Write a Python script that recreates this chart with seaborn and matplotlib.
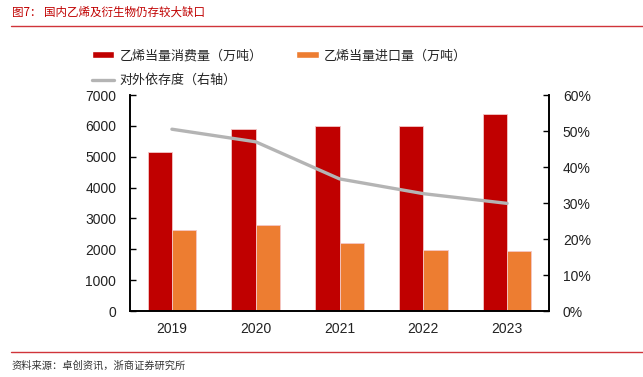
import numpy as np
import pandas as pd
import matplotlib
matplotlib.use('Agg')
import matplotlib.pyplot as plt
import seaborn as sns
from matplotlib.patches import Patch
from matplotlib.lines import Line2D

# 数据
years = ['2019', '2020', '2021', '2022', '2023']
consume = [5150, 5890, 5980, 6010, 6380]      # 乙烯当量消费量（万吨）
imports = [2610, 2780, 2200, 1965, 1930]      # 乙烯当量进口量（万吨）
depend = [0.505, 0.470, 0.367, 0.326, 0.299]  # 对外依存度（右轴）

name_c = '乙烯当量消费量（万吨）'
name_i = '乙烯当量进口量（万吨）'
name_d = '对外依存度（右轴）'

sns.set_style('white')
plt.rcParams['font.family'] = ['Noto Sans CJK SC', 'DejaVu Sans']

df = pd.DataFrame({
    'year': years * 2,
    'value': consume + imports,
    'kind': [name_c] * len(years) + [name_i] * len(years),
})

red = '#C00000'
orange = '#ED7D31'
gray = '#B4B4B4'

fig = plt.figure(figsize=(6.43, 3.77), dpi=100)
ax = fig.add_axes([0.2022, 0.175, 0.6516, 0.573])

sns.barplot(data=df, x='year', y='value', hue='kind', palette=[red, orange],
            saturation=1, width=0.58, edgecolor='#F4C7C7', linewidth=0.6,
            legend=False, ax=ax)
ax.set_ylim(0, 7000)
ax.set_yticks(range(0, 7001, 1000))
ax.set_xlim(-0.5, 4.5)
ax.set_xlabel('')
ax.set_ylabel('')
ax.set_xticks(range(5))
ax.set_xticklabels(years)
# 类别之间的刻度
ax.set_xticks(np.arange(0.5, 4.5, 1), minor=True)
ax.tick_params(axis='x', which='major', length=0, pad=8, labelsize=10)
ax.tick_params(axis='x', which='minor', direction='in', length=4, width=1, color='black')
ax.tick_params(axis='y', direction='in', length=4, width=1, color='black', labelsize=10, pad=10)

ax2 = ax.twinx()
sns.lineplot(x=np.arange(len(years)), y=depend, color=gray, linewidth=2.4, ax=ax2)
ax2.set_ylim(0, 0.6)
ax2.set_yticks(np.arange(0, 0.61, 0.1))
ax2.set_yticklabels([f'{int(round(v * 100))}%' for v in np.arange(0, 0.61, 0.1)])
ax2.tick_params(axis='y', direction='in', length=4, width=1, color='black', labelsize=10, pad=10)

for a in (ax, ax2):
    for s in ['left', 'right', 'bottom']:
        a.spines[s].set_visible(True)
        a.spines[s].set_color('black')
        a.spines[s].set_linewidth(1.2)
    a.spines['top'].set_visible(False)
    for lbl in a.get_xticklabels() + a.get_yticklabels():
        lbl.set_fontfamily(['Liberation Sans', 'DejaVu Sans'])
        lbl.set_color('#222222')

# 图例
handles = [
    Patch(facecolor=red, label=name_c),
    Line2D([0], [0], color=gray, linewidth=2.4, label=name_d),
    Patch(facecolor=orange, label=name_i),
]
fig.legend(handles=handles, ncol=2, frameon=False, loc='upper left',
           bbox_to_anchor=(0.125, 0.9), fontsize=9.4,
           handlelength=1.7, handleheight=0.45, columnspacing=2.6, labelspacing=0.9,
           handletextpad=0.4)

# 标题和来源
fig.text(0.018, 0.968, '图7：', color=red, fontsize=8.3, va='center')
fig.text(0.069, 0.968, '国内乙烯及衍生物仍存较大缺口', color=red, fontsize=8.3, va='center')
fig.add_artist(Line2D([0.017, 1.0], [0.931, 0.931], color='#D0343A', linewidth=1.0))
fig.add_artist(Line2D([0.017, 1.0], [0.066, 0.066], color='#D0343A', linewidth=1.0))
fig.text(0.018, 0.029, '资料来源：卓创资讯，浙商证券研究所', color='#333333', fontsize=7.4, va='center')

fig.savefig('out.png', dpi=100)
